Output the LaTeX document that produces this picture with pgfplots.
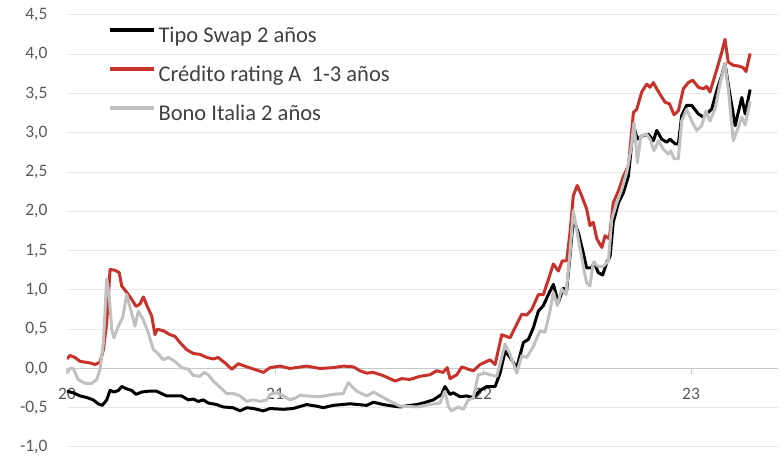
\documentclass[border=0pt]{standalone}
\usepackage{fontspec}
\setmainfont{Carlito}
\usepackage{pgfplots}
\pgfplotsset{compat=1.18}
\definecolor{cred}{RGB}{200,50,42}
\definecolor{cgray}{RGB}{192,192,192}
\definecolor{ctext}{RGB}{89,89,89}
\definecolor{clegtext}{RGB}{64,64,64}
\definecolor{cgrid}{RGB}{232,232,232}
\definecolor{caxis}{RGB}{200,200,200}
\begin{document}
\begin{tikzpicture}
\begin{axis}[
  name=ax,
  scale only axis, width=711bp, height=432bp,
  xmin=0, xmax=3.418, ymin=-1, ymax=4.5,
  axis x line=middle, axis y line=left,
  x axis line style={-, draw=caxis, line width=1.2bp},
  y axis line style={draw=none},
  hide obscured x ticks=false,
  xtick={0,1,2,3}, xticklabels={20,21,22,23},
  ytick={-1,-0.5,0,0.5,1,1.5,2,2.5,3,3.5,4,4.5},
  ymajorgrids, grid style={cgrid, line width=1bp},
  tick align=outside, major tick length=6bp,
  xtick style={draw=caxis, line width=1bp},
  ytick style={draw=none},
  tick label style={font=\fontsize{17.5bp}{20bp}\selectfont, text=ctext},
  xticklabel style={yshift=-10bp},
  yticklabel style={xshift=-10bp},
  /pgf/number format/assume math mode=true,
  yticklabel={\pgfmathprintnumber[fixed, fixed zerofill, precision=1, use comma]{\tick}},
  legend style={at={(0.0577,0.9745)}, anchor=north west, draw=none, fill=none,
    inner sep=0pt, outer sep=0pt, row sep=17bp,
    /tikz/every odd column/.style={column sep=0pt},
    /tikz/every even column/.style={column sep=0pt},
    font=\fontsize{22.5bp}{26bp}\selectfont, text=clegtext,
    nodes={inner sep=0pt, text height=16bp, text depth=6bp}},
  legend cell align=left,
  legend image code/.code={\draw[#1, line width=4bp] (0bp,7bp) -- (44bp,7bp); \path (47bp,7bp);},
  every axis plot/.append style={line width=3bp, line join=round, no marks},
]
\addplot[black] coordinates {
(0.0,-0.29)(0.030,-0.31)(0.063,-0.35)(0.095,-0.37)(0.126,-0.40)(0.150,-0.45)(0.170,-0.47)(0.191,-0.40)(0.207,-0.28)(0.226,-0.30)(0.247,-0.28)(0.263,-0.23)(0.287,-0.26)(0.311,-0.28)(0.332,-0.33)(0.359,-0.30)(0.391,-0.29)(0.431,-0.29)(0.455,-0.32)(0.479,-0.35)(0.519,-0.35)(0.551,-0.35)(0.583,-0.40)(0.607,-0.39)(0.631,-0.42)(0.655,-0.40)(0.679,-0.44)(0.720,-0.46)(0.750,-0.49)(0.798,-0.50)(0.832,-0.54)(0.864,-0.50)(0.896,-0.51)(0.944,-0.54)(0.976,-0.51)(1.040,-0.52)(1.087,-0.51)(1.152,-0.46)(1.200,-0.48)(1.232,-0.50)(1.280,-0.47)(1.361,-0.45)(1.441,-0.47)(1.473,-0.43)(1.521,-0.46)(1.569,-0.48)(1.601,-0.49)(1.649,-0.47)(1.681,-0.46)(1.713,-0.44)(1.761,-0.40)(1.801,-0.33)(1.817,-0.23)(1.841,-0.33)(1.857,-0.31)(1.889,-0.36)(1.921,-0.35)(1.953,-0.37)(1.986,-0.28)(2.018,-0.23)(2.058,-0.23)(2.082,-0.06)(2.106,0.22)(2.130,0.14)(2.162,0.01)(2.194,0.33)(2.218,0.37)(2.242,0.52)(2.266,0.73)(2.290,0.80)(2.314,0.94)(2.338,1.07)(2.362,0.84)(2.386,1.02)(2.402,0.99)(2.418,1.43)(2.434,1.90)(2.458,1.73)(2.482,1.47)(2.498,1.28)(2.523,1.28)(2.534,1.35)(2.554,1.22)(2.575,1.19)(2.595,1.35)(2.611,1.43)(2.626,1.86)(2.651,2.11)(2.675,2.24)(2.699,2.45)(2.723,3.09)(2.742,2.92)(2.763,2.96)(2.795,2.98)(2.819,2.90)(2.835,3.03)(2.859,2.92)(2.883,2.88)(2.899,2.92)(2.923,2.86)(2.939,2.86)(2.955,3.22)(2.979,3.35)(3.003,3.35)(3.035,3.24)(3.059,3.20)(3.083,3.26)(3.099,3.30)(3.124,3.54)(3.148,3.73)(3.163,3.88)(3.188,3.47)(3.212,3.09)(3.227,3.26)(3.244,3.45)(3.260,3.24)(3.284,3.55)
};
\addlegendentry{Tipo Swap 2 años}
\addplot[cred] coordinates {
(0.0,0.12)(0.014,0.165)(0.038,0.14)(0.063,0.09)(0.111,0.07)(0.135,0.05)(0.159,0.08)(0.175,0.24)(0.191,0.58)(0.207,1.26)(0.231,1.25)(0.251,1.22)(0.263,1.05)(0.287,0.97)(0.311,0.88)(0.332,0.79)(0.351,0.82)(0.367,0.91)(0.386,0.79)(0.407,0.67)(0.423,0.43)(0.434,0.50)(0.463,0.48)(0.495,0.43)(0.519,0.41)(0.543,0.33)(0.575,0.24)(0.607,0.19)(0.639,0.18)(0.672,0.14)(0.703,0.12)(0.726,0.14)(0.760,0.07)(0.792,-0.01)(0.824,0.06)(0.864,0.02)(0.912,-0.02)(0.944,-0.05)(0.976,0.01)(1.024,0.03)(1.072,0.0)(1.152,0.03)(1.216,0.0)(1.280,0.01)(1.328,0.03)(1.377,0.02)(1.409,-0.03)(1.441,-0.06)(1.471,-0.05)(1.519,-0.09)(1.577,-0.16)(1.609,-0.13)(1.649,-0.14)(1.697,-0.10)(1.745,-0.08)(1.777,-0.03)(1.808,-0.05)(1.828,0.01)(1.841,-0.13)(1.874,-0.08)(1.898,0.02)(1.929,-0.01)(1.953,-0.03)(1.986,0.05)(2.034,0.11)(2.058,0.05)(2.090,0.43)(2.130,0.39)(2.154,0.52)(2.186,0.69)(2.210,0.68)(2.234,0.75)(2.266,0.94)(2.290,0.94)(2.314,1.13)(2.338,1.33)(2.362,1.24)(2.381,1.37)(2.402,1.37)(2.418,1.73)(2.434,2.20)(2.453,2.33)(2.474,2.20)(2.498,2.03)(2.514,1.82)(2.530,1.86)(2.547,1.65)(2.571,1.54)(2.587,1.69)(2.607,1.65)(2.626,2.11)(2.651,2.26)(2.675,2.45)(2.699,2.58)(2.723,3.26)(2.739,3.30)(2.763,3.52)(2.787,3.62)(2.803,3.58)(2.819,3.64)(2.835,3.56)(2.851,3.49)(2.875,3.39)(2.896,3.37)(2.918,3.23)(2.939,3.28)(2.963,3.56)(2.987,3.64)(3.008,3.67)(3.035,3.58)(3.059,3.56)(3.075,3.59)(3.091,3.52)(3.124,3.81)(3.148,4.03)(3.163,4.19)(3.179,3.90)(3.203,3.86)(3.227,3.85)(3.251,3.83)(3.264,3.78)(3.284,4.01)
};
\addlegendentry{Crédito rating A\ \ 1-3 años}
\addplot[cgray] coordinates {
(0.0,-0.06)(0.014,0.0)(0.030,0.0)(0.054,-0.14)(0.087,-0.19)(0.119,-0.19)(0.143,-0.14)(0.159,-0.01)(0.175,0.33)(0.191,1.14)(0.203,0.92)(0.215,0.50)(0.226,0.39)(0.247,0.54)(0.268,0.65)(0.287,0.94)(0.306,0.75)(0.327,0.54)(0.343,0.73)(0.367,0.62)(0.391,0.45)(0.415,0.24)(0.434,0.20)(0.463,0.11)(0.487,0.14)(0.519,0.09)(0.551,0.01)(0.583,-0.01)(0.607,-0.09)(0.639,-0.10)(0.659,-0.05)(0.679,-0.08)(0.703,-0.16)(0.732,-0.23)(0.768,-0.32)(0.800,-0.32)(0.832,-0.35)(0.864,-0.42)(0.896,-0.40)(0.928,-0.42)(0.960,-0.40)(0.976,-0.33)(1.008,-0.31)(1.040,-0.35)(1.072,-0.40)(1.104,-0.37)(1.120,-0.34)(1.152,-0.35)(1.216,-0.36)(1.280,-0.33)(1.328,-0.32)(1.352,-0.18)(1.393,-0.29)(1.441,-0.35)(1.473,-0.30)(1.521,-0.37)(1.569,-0.44)(1.601,-0.48)(1.681,-0.49)(1.745,-0.46)(1.793,-0.44)(1.817,-0.29)(1.833,-0.48)(1.849,-0.54)(1.881,-0.49)(1.905,-0.52)(1.929,-0.40)(1.953,-0.38)(1.977,-0.08)(2.010,-0.06)(2.034,-0.08)(2.066,-0.10)(2.106,0.31)(2.130,0.18)(2.162,-0.06)(2.186,0.16)(2.210,0.14)(2.242,0.28)(2.274,0.48)(2.298,0.46)(2.322,0.73)(2.338,0.97)(2.357,0.80)(2.378,1.01)(2.399,0.94)(2.418,1.47)(2.434,2.01)(2.458,1.65)(2.482,1.30)(2.498,1.09)(2.514,1.05)(2.530,1.35)(2.554,1.30)(2.578,1.30)(2.603,1.37)(2.619,1.90)(2.643,2.11)(2.667,2.28)(2.691,2.50)(2.712,2.81)(2.726,3.13)(2.742,2.62)(2.758,2.96)(2.787,2.98)(2.803,2.92)(2.822,2.77)(2.843,2.90)(2.867,2.79)(2.891,2.73)(2.902,2.77)(2.918,2.67)(2.939,2.67)(2.955,3.15)(2.979,3.30)(3.003,3.15)(3.027,3.03)(3.051,3.09)(3.072,3.28)(3.091,3.15)(3.115,3.30)(3.139,3.62)(3.163,3.88)(3.179,3.56)(3.203,2.90)(3.227,3.07)(3.244,3.20)(3.260,3.10)(3.284,3.40)
};
\addlegendentry{Bono Italia 2 años}
\end{axis}
\path (ax.south west) ++(-67bp,-9bp) (ax.north east) ++(5bp,15bp);
\end{tikzpicture}
\end{document}
